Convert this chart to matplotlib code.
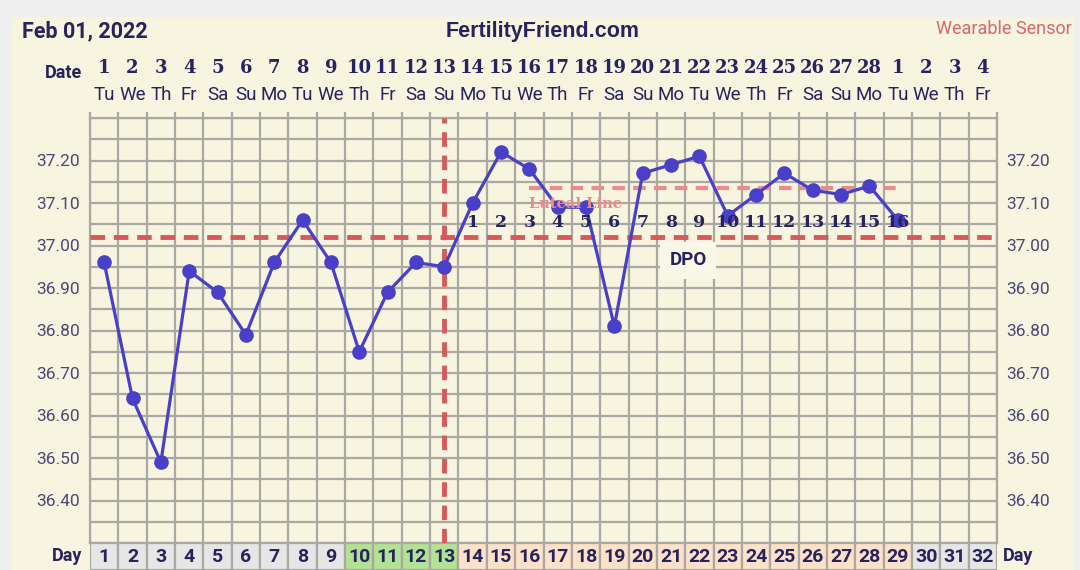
import matplotlib.pyplot as plt
from matplotlib.patches import Rectangle
from matplotlib.transforms import blended_transform_factory
import numpy as np

# chart data
cycle_days = list(range(1, 33))
temps = [36.96, 36.64, 36.49, 36.94, 36.89, 36.79, 36.96, 37.06, 36.96, 36.75,
         36.89, 36.96, 36.95, 37.10, 37.22, 37.18, 37.09, 37.09, 36.81, 37.17,
         37.19, 37.21, 37.07, 37.12, 37.17, 37.13, 37.12, 37.14, 37.06]
date_nums = list(range(1, 29)) + [1, 2, 3, 4]
weekdays = ["Tu", "We", "Th", "Fr", "Sa", "Su", "Mo"] * 5
weekdays = weekdays[:32]
cover_line = 37.02
luteal_line = 37.135
luteal_start, luteal_end = 16, 29
ovulation_day = 13
dpo_labels = list(range(1, 17))
fertile_days = [10, 11, 12, 13]
y_ticks = [37.20, 37.10, 37.00, 36.90, 36.80, 36.70, 36.60, 36.50, 36.40]

NAVY = "#27235e"
CREAM = "#f7f4df"
GRID = "#a9a8a2"
LINE = "#4a3fc8"
RED = "#d65a5c"
PINK = "#ef8a8a"

W, H = 1080, 570
fig = plt.figure(figsize=(10.8, 5.7), dpi=100, facecolor="#efefef")
fig.patches.append(Rectangle((12 / W, 0), (1073 - 12) / W, 1 - 17 / H,
                             transform=fig.transFigure, facecolor=CREAM,
                             edgecolor="none", zorder=-5))

L, R, T, B = 90, 997, 118, 543
ax = fig.add_axes([L / W, 1 - B / H, (R - L) / W, (B - T) / H])
ax.set_facecolor(CREAM)
ax.set_xlim(0.5, 32.5)
ax.set_ylim(36.30, 37.30)

for y in np.arange(36.30, 37.301, 0.05):
    ax.axhline(y, color=GRID, lw=1.6, zorder=1)
for x in np.arange(0.5, 32.6, 1):
    ax.axvline(x, color=GRID, lw=1.6, zorder=1)
    ax.plot([x, x], [1.0, 1.012], transform=blended_transform_factory(ax.transData, ax.transAxes),
            color=GRID, lw=1.6, clip_on=False)
for s in ax.spines.values():
    s.set_color(GRID)
    s.set_linewidth(1.6)

ax.set_xticks([])
ax.set_yticks(y_ticks)
ax.set_yticklabels([f"{v:.2f}" for v in y_ticks], fontsize=12.5, color="#4a4878", family="Roboto")
ax.tick_params(axis="y", length=0, pad=7, labelright=True)

# cover line and ovulation line
ax.axhline(cover_line, color=RED, lw=3.5, dashes=(3, 1.8), zorder=3)
ax.axvline(ovulation_day, color=RED, lw=3.5, dashes=(3, 1.8), zorder=3)
ax.plot([luteal_start, luteal_end], [luteal_line, luteal_line], color=PINK, lw=3,
        dashes=(3, 2), zorder=3)
ax.text(luteal_start, luteal_line - 0.02, "Luteal Line", color=PINK, fontsize=10.5,
        family="DejaVu Serif", weight="bold", va="top", ha="left", zorder=7)

# temperatures
days_rec = cycle_days[:len(temps)]
ax.plot(days_rec, temps, color=LINE, lw=2.3, marker="o", ms=9.5, zorder=5)

# DPO labels
for i, d in enumerate(dpo_labels):
    ax.text(ovulation_day + 1 + i, 37.055, str(d), ha="center", va="center",
            fontsize=12.5, family="DejaVu Serif", weight="bold", color=NAVY, zorder=6)
ax.text(21.6, 36.965, "DPO", ha="center", va="center", fontsize=13.5, family="Roboto",
        weight="bold", color=NAVY, zorder=6,
        bbox=dict(facecolor="#f9f7e8", edgecolor="none", boxstyle="square,pad=0.5"))

# header rows
tr = blended_transform_factory(ax.transData, fig.transFigure)
for d, n, wd in zip(cycle_days, date_nums, weekdays):
    ax.text(d, 1 - 68 / H, str(n), transform=tr, ha="center", va="center",
            fontsize=13, family="DejaVu Serif", weight="bold", color=NAVY)
    ax.text(d, 1 - 95 / H, wd, transform=tr, ha="center", va="center",
            fontsize=13.5, family="Roboto", color=NAVY)
fig.text(82 / W, 1 - 73 / H, "Date", ha="right", va="center", fontsize=13,
         family="Roboto", weight="bold", color=NAVY)
fig.text(22 / W, 1 - 31 / H, "Feb 01, 2022", ha="left", va="center", fontsize=15.5,
         family="Roboto", weight="bold", color=NAVY)
fig.text(543 / W, 1 - 31 / H, "FertilityFriend.com", ha="center", va="center",
         fontsize=15.5, family="Liberation Sans", weight="bold", color=NAVY)
fig.text(1072 / W, 1 - 29 / H, "Wearable Sensor", ha="right", va="center",
         fontsize=13, family="Roboto", color="#d9666a")

# day row
ax2 = fig.add_axes([L / W, 0, (R - L) / W, (H - B) / H])
ax2.set_xlim(0.5, 32.5)
ax2.set_ylim(0, 1)
ax2.axis("off")
for d in cycle_days:
    if d in fertile_days:
        c = "#b2e293"
    elif ovulation_day < d <= len(temps):
        c = "#fde2c9"
    else:
        c = "#e6e6e6"
    ax2.add_patch(Rectangle((d - 0.5, 0), 1, 1, facecolor=c, edgecolor=GRID, lw=1.6))
    ax2.text(d, 0.5, str(d), ha="center", va="center", fontsize=14, family="Roboto",
             weight="bold", color=NAVY)
fig.text(82 / W, 1 - 556 / H, "Day", ha="right", va="center", fontsize=13,
         family="Roboto", weight="bold", color=NAVY)
fig.text(1003 / W, 1 - 556 / H, "Day", ha="left", va="center", fontsize=13,
         family="Roboto", weight="bold", color=NAVY)

fig.savefig("out.png", dpi=100, facecolor=fig.get_facecolor())
